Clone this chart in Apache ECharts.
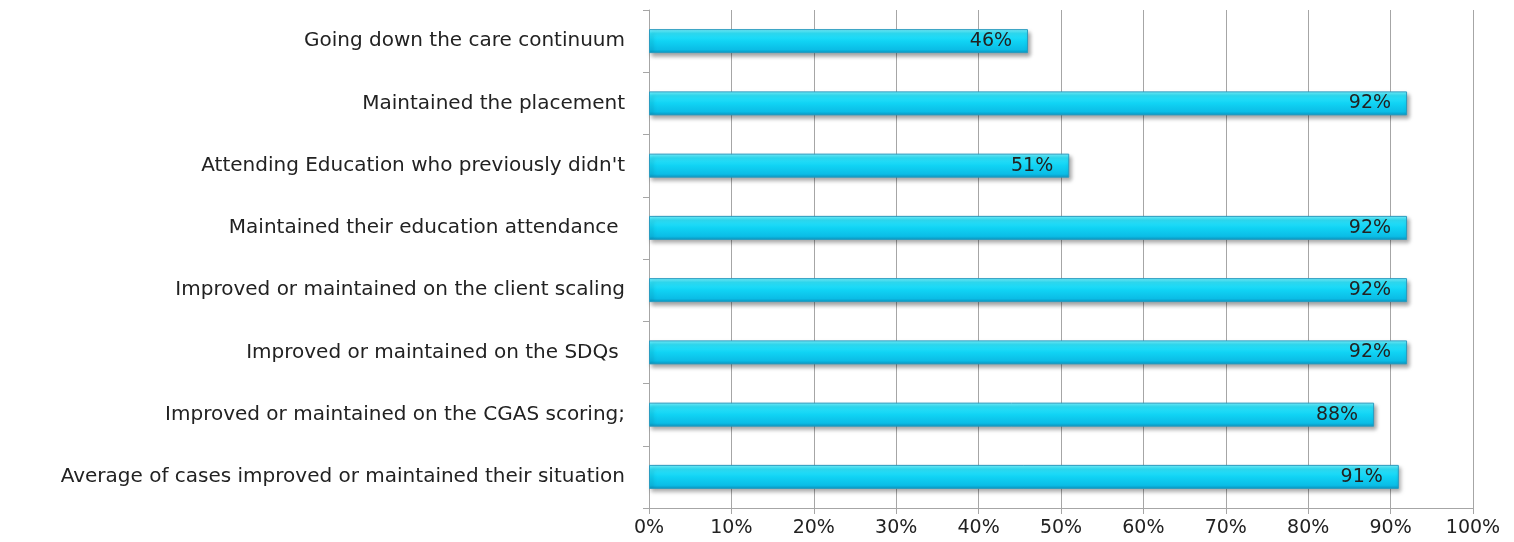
<!DOCTYPE html>
<html><head><meta charset="utf-8">
<script src="https://cdn.jsdelivr.net/npm/echarts@6/dist/echarts.min.js"></script>
<style>html,body{margin:0;padding:0;background:#fff}#c{width:1514px;height:542px}</style>
</head><body><div id="c"></div>
<script>
const categories = [
  "Going down the care continuum",
  "Maintained the placement",
  "Attending Education who previously didn't",
  "Maintained their education attendance ",
  "Improved or maintained on the client scaling",
  "Improved or maintained on the SDQs ",
  "Improved or maintained on the CGAS scoring;",
  "Average of cases improved or maintained their situation"
];
const values = [46, 92, 51, 92, 92, 92, 88, 91];
const xTicks = [0, 10, 20, 30, 40, 50, 60, 70, 80, 90, 100];

const chart = echarts.init(document.getElementById('c'));
const font = "'DejaVu Sans', sans-serif";
chart.setOption({
  animation: false,
  grid: {left: 649, right: 41, top: 10, bottom: 34, containLabel: false},
  xAxis: {
    type: 'value', min: xTicks[0], max: xTicks[xTicks.length-1], interval: 10,
    axisLine: {show: true, lineStyle: {color: '#a6a6a6'}},
    axisTick: {show: true, length: 6, lineStyle: {color: '#a6a6a6'}},
    splitLine: {show: true, lineStyle: {color: '#a6a6a6', width: 1}},
    axisLabel: {formatter: '{value}%', color: '#222', fontSize: 19, fontFamily: font, margin: 11}
  },
  yAxis: {
    type: 'category', data: categories, inverse: true,
    axisLine: {show: true, lineStyle: {color: '#a6a6a6'}},
    axisTick: {show: true, length: 6, lineStyle: {color: '#a6a6a6'}},
    axisLabel: {color: '#222', fontSize: 20, fontFamily: font, margin: 24}
  },
  series: [{
    type: 'bar', data: values, barWidth: 24,
    itemStyle: {
      color: new echarts.graphic.LinearGradient(0, 0, 0, 1, [
        {offset: 0, color: '#7af2ff'},
        {offset: 0.18, color: '#2fe3fb'},
        {offset: 0.5, color: '#10d3f4'},
        {offset: 0.85, color: '#0bbde6'},
        {offset: 1, color: '#0a95c0'}
      ]),
      borderColor: '#2a9cc0', borderWidth: 1,
      shadowColor: 'rgba(0,0,0,0.35)', shadowBlur: 4, shadowOffsetX: 2, shadowOffsetY: 3
    },
    label: {show: true, position: 'insideRight', distance: 16, formatter: '{c}%',
      color: '#222', fontSize: 19, fontFamily: font}
  }]
});
</script></body></html>
